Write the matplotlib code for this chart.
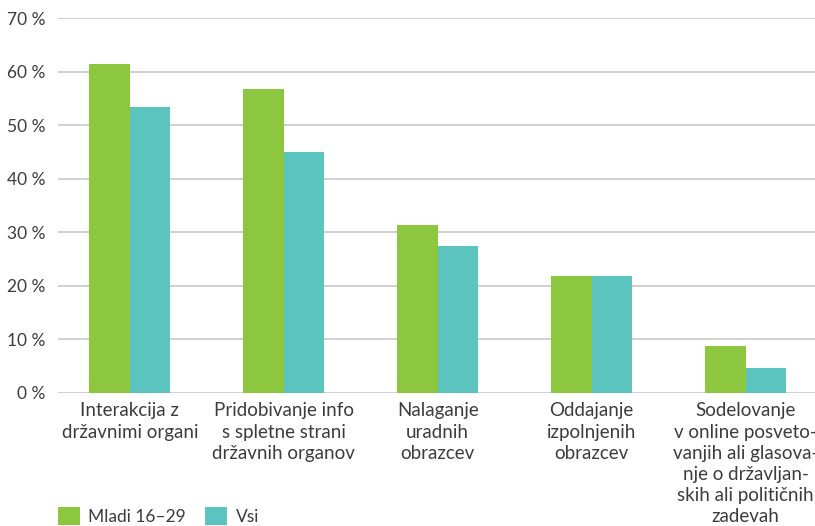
import numpy as np
import matplotlib
matplotlib.use("Agg")
import matplotlib.pyplot as plt

# podatki
kategorije = [
    "Interakcija z\ndržavnimi organi",
    "Pridobivanje info\ns spletne strani\ndržavnih organov",
    "Nalaganje\nuradnih\nobrazcev",
    "Oddajanje\nizpolnjenih\nobrazcev",
    "Sodelovanje\nv online posveto-\nvanjih ali glasova-\nnje o državljan-\nskih ali političnih\nzadevah",
]
mladi = [61.5, 56.7, 31.3, 21.9, 8.8]
vsi = [53.4, 45.0, 27.5, 21.9, 4.6]
serije = ["Mladi 16–29", "Vsi"]
y_oznake = [0, 10, 20, 30, 40, 50, 60, 70]

zelena = "#8dc63f"
turkizna = "#5bc4bf"
barva_teksta = "#3c3c3c"

plt.rcParams["font.family"] = ["Lato", "DejaVu Sans"]

fig = plt.figure(figsize=(8.15, 5.26), dpi=100)
ax = fig.add_axes([58 / 815, 1 - 392.7 / 526, 1 - 58 / 815, (392.7 - 18.3) / 526])

x = np.arange(len(kategorije))
sirina = 0.262
ax.bar(x - sirina / 2, mladi, sirina, color=zelena, label=serije[0], zorder=3)
ax.bar(x + sirina / 2, vsi, sirina, color=turkizna, label=serije[1], zorder=3)

ax.set_ylim(0, 70)
ax.set_xlim(-0.466, 4.45)
ax.set_yticks(y_oznake)
ax.set_yticklabels([f"{v} %" for v in y_oznake], fontsize=12.5, color=barva_teksta)
ax.set_xticks(x)
ax.set_xticklabels(kategorije, fontsize=13.5, color=barva_teksta, linespacing=1.3)
ax.tick_params(axis="both", length=0)
ax.tick_params(axis="y", pad=9)
ax.tick_params(axis="x", pad=7)

ax.grid(axis="y", color="#c8c8c8", linewidth=1.2, zorder=0)
for s in ax.spines.values():
    s.set_visible(False)

fig.legend(loc="lower left", bbox_to_anchor=(58 / 815, 0.002), ncol=2, frameon=False,
           borderpad=0, borderaxespad=0,
           fontsize=12.5, handlelength=1.25, handleheight=1.25, handletextpad=0.5,
           columnspacing=1.1, labelcolor=barva_teksta)

fig.savefig("out.png", dpi=100)
